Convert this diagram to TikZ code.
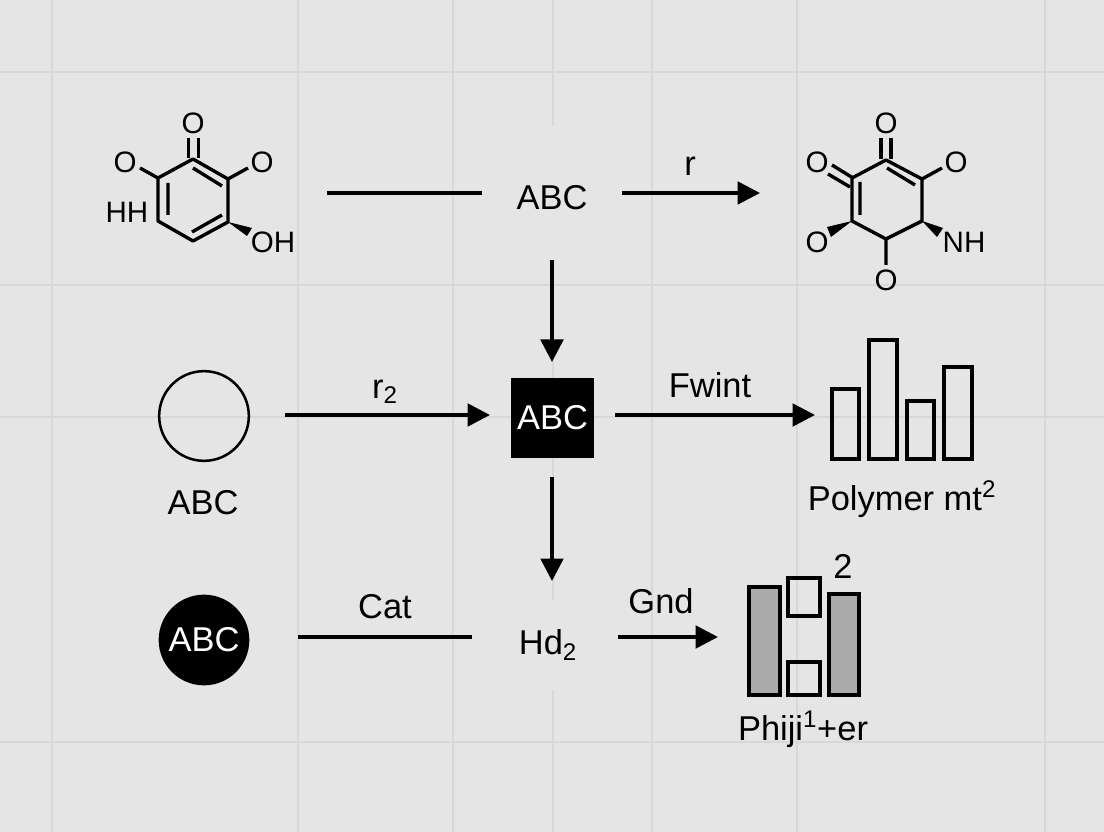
\documentclass[tikz,border=0pt]{standalone}
\usepackage{fontspec}
\setmainfont{Liberation Sans}
\usetikzlibrary{arrows.meta}
\definecolor{paper}{HTML}{E5E5E5}
\definecolor{rule}{HTML}{D8D8D8}
\definecolor{barfill}{HTML}{ABABAB}
\tikzset{
	lbl/.style={font=\fontsize{24.5}{28}\selectfont, inner sep=0pt},
	atom/.style={font=\fontsize{21}{25}\selectfont, inner sep=0pt},
	bond/.style={line width=2.4pt},
	link/.style={line width=2.6pt},
	arr/.style={link, -{Triangle[length=16pt,width=16pt]}},
	wedge/.style={fill=black, draw=none},
	bar/.style={draw=black, line width=2.2pt, line join=miter},
}
\begin{document}
\begin{tikzpicture}[x=0.025cm,y=-0.025cm,line join=round]
	\def \px{0.7087pt} %one reference pixel
	\useasboundingbox (0,0) rectangle (1104,832);
	\fill[paper] (0,0) rectangle (1104,832);
	\foreach \gx in {52,298,453,553,652,797,1045}
		\draw[rule,line width=0.9pt] (\gx,0)--(\gx,832);
	\foreach \gy in {72,285,417,742}
		\draw[rule,line width=0.9pt] (0,\gy)--(1104,\gy);

	% left ring
	\coordinate (a1) at (193,159);
	\coordinate (a2) at (228,179);
	\coordinate (a3) at (228,222);
	\coordinate (a4) at (193,241);
	\coordinate (a5) at (158,221);
	\coordinate (a6) at (158,178);
	\draw[bond] (a1)--(a2)--(a3)--(a4)--(a5)--(a6)--cycle;
	\draw[bond] (168,183)--(168,215) (193,168)--(222,186) (192,232)--(222,215);
	\draw[bond] (188.5,138)--(188.5,158) (198.5,138)--(198.5,158);
	\draw[bond] (a6)--(140,168) (a2)--(248,168);
	\fill[wedge] (a3)--(252,228)--(247,236)--cycle;
	\node[atom] (oa1) at (193,123) {O};
	\node[atom] (oa2) at (125,162) {O};
	\node[atom] (oa3) at (262,162) {O};
	\node[atom] (ha) at (127,212) {HH};
	\node[atom] (oha) at (273,242) {OH};

	% right ring
	\coordinate (b1) at (886,160);
	\coordinate (b2) at (922,179);
	\coordinate (b3) at (922,221);
	\coordinate (b4) at (886,239);
	\coordinate (b5) at (852,221);
	\coordinate (b6) at (852,178);
	\draw[bond] (b1)--(b2)--(b3)--(b4)--(b5)--(b6)--cycle;
	\draw[bond] (860,182)--(860,215) (887,168)--(915,185);
	\draw[bond] (881,138)--(881,159) (891,138)--(891,159);
	\draw[bond] (832,165)--(853,178) (828,174)--(850,187);
	\draw[bond] (b2)--(942,168) (b4)--(886,265);
	\fill[wedge] (b3)--(943,228)--(937,237)--cycle;
	\fill[wedge] (b5)--(827,227)--(831,237)--cycle;
	\node[atom] (ob1) at (886,123) {O};
	\node[atom] (ob2) at (817,162) {O};
	\node[atom] (ob3) at (956,162) {O};
	\node[atom] (ob4) at (817,242) {O};
	\node[atom] (ob5) at (886,280) {O};
	\node[atom] (nh) at (964,242) {NH};

	% main nodes
	\coordinate (start) at (327,193);
	\node[lbl,fill=paper,minimum width=139*\px,minimum height=134*\px] (abc) at (552,193) {\raisebox{-12pt}[0pt][0pt]{ABC}};
	\coordinate (endr) at (760,193);
	\draw[link] (start)--(abc.west);
	\draw[arr] (abc.east)--(endr);
	\node[lbl] (r) at (690,166) {r};

	\node[circle,draw,line width=1.8pt,minimum size=90*\px,inner sep=0pt] (ring) at (204,416) {};
	\node[lbl] (ringlbl) at (203,503) {ABC};
	\node[lbl,fill=black,text=white,minimum width=83*\px,minimum height=80*\px] (box) at (552.5,418) {ABC};
	\coordinate (p1) at (285,415);
	\coordinate (p2) at (490,415);
	\coordinate (p3) at (615,415);
	\coordinate (p4) at (815,415);
	\draw[arr] (p1)--(p2);
	\draw[arr] (p3)--(p4);
	\node[lbl] (r2) at (385,392) {r\textsubscript{2}};
	\node[lbl] (fw) at (710,385) {Fwint};

	\coordinate (d1) at (552,362);
	\coordinate (d2) at (552,477);
	\coordinate (d3) at (552,581);
	\draw[arr] (abc.south)--(d1);
	\draw[arr] (d2)--(d3);

	\node[lbl,circle,fill=black,text=white,minimum size=91*\px] (disc) at (204,640) {ABC};
	\node[lbl] (cat) at (385,607) {Cat};
	\node[lbl,fill=paper,minimum width=90*\px,minimum height=90*\px] (hd) at (548,645) {Hd\textsubscript{2}};
	\node[lbl] (gnd) at (661,601) {Gnd};
	\coordinate (q1) at (298,637);
	\coordinate (q2) at (472,637);
	\coordinate (q3) at (618,637);
	\coordinate (q4) at (718,637);
	\draw[link] (q1)--(q2);
	\draw[arr] (q3)--(q4);

	% bars
	\draw[bar] (832,389) rectangle (859,459);
	\draw[bar] (869,340) rectangle (897,459);
	\draw[bar] (907,401) rectangle (934,459);
	\draw[bar] (944,367) rectangle (972,459);
	\node[lbl] (poly) at (902,499) {Polymer mt\textsuperscript{2}};

	\draw[bar,fill=barfill] (749,587) rectangle (780,695);
	\draw[bar] (788,578) rectangle (820,616);
	\draw[bar] (788,662) rectangle (820,695);
	\draw[bar,fill=barfill] (829,594) rectangle (859,695);
	\node[lbl] (two) at (843,566) {2};
	\node[lbl] (phi) at (803,729) {Phiji\textsuperscript{1}+er};
\end{tikzpicture}
\end{document}
